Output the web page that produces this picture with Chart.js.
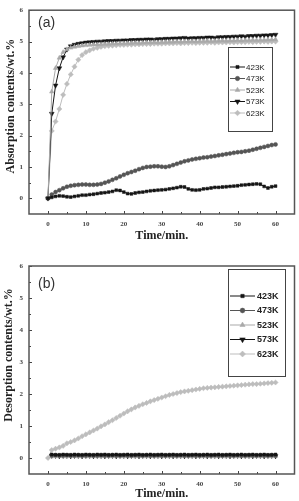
<!DOCTYPE html>
<html><head><meta charset="utf-8">
<script src="https://cdn.jsdelivr.net/npm/chart.js@4/dist/chart.umd.min.js"></script>
<style>
html,body{margin:0;padding:0;background:#fff;width:299px;height:501px;overflow:hidden}
#wa{position:absolute;left:0;top:0;width:299px;height:250px}
#wb{position:absolute;left:0;top:250px;width:299px;height:251px}
</style></head><body>
<div id="wa"><canvas id="ca"></canvas></div>
<div id="wb"><canvas id="cb"></canvas></div>
<script>
const times = [0,1,2,3,4,5,6,7,8,9,10,11,12,13,14,15,16,17,18,19,20,21,22,23,24,25,26,27,28,29,30,31,32,33,34,35,36,37,38,39,40,41,42,43,44,45,46,47,48,49,50,51,52,53,54,55,56,57,58,59,60];
const seriesNames = ['423K','473K','523K','573K','623K'];
const xTickValues = [0,10,20,30,40,50,60];
const yTickValues = [0,1,2,3,4,5,6];

// (a) Absorption contents / wt.%
const abs423 = [0,0.03,0.06,0.08,0.07,0.05,0.04,0.06,0.08,0.1, 0.1,0.12,0.13,0.15,0.17,0.18,0.2,0.22,0.26,0.25, 0.2,0.15,0.14,0.17,0.19,0.2,0.22,0.24,0.25,0.26, 0.27,0.28,0.3,0.32,0.34,0.37,0.36,0.3,0.27,0.26, 0.27,0.3,0.31,0.33,0.35,0.35,0.36,0.37,0.38,0.39, 0.4,0.42,0.43,0.44,0.45,0.46,0.45,0.38,0.33,0.37, 0.39];
const abs473 = [0,0.12,0.2,0.26,0.32,0.37,0.4,0.42,0.43,0.44, 0.44,0.43,0.43,0.44,0.46,0.5,0.54,0.59,0.64,0.7, 0.75,0.8,0.84,0.88,0.93,0.97,1.0,1.01,1.02,1.02, 1.01,1.0,1.02,1.06,1.1,1.14,1.18,1.21,1.24,1.26, 1.28,1.3,1.31,1.33,1.35,1.37,1.39,1.41,1.43,1.45, 1.47,1.48,1.5,1.52,1.55,1.58,1.61,1.64,1.67,1.7, 1.72];
const abs523 = [0,3.4,4.15,4.48,4.66,4.75,4.8,4.83,4.85,4.87, 4.88,4.89,4.9,4.9,4.91,4.92,4.92,4.93,4.93,4.94, 4.94,4.95,4.95,4.96,4.95,4.96,4.97,4.97,4.98,4.97, 4.98,4.98,4.99,4.99,5.0,4.99,5.0,5.0,5.01,5.0, 5.01,5.01,5.02,5.01,5.02,5.02,5.03,5.02,5.03,5.03, 5.04,5.03,5.04,5.04,5.05,5.04,5.05,5.05,5.06,5.06, 5.07];
const abs573 = [0,2.7,3.6,4.15,4.5,4.75,4.85,4.9,4.93,4.95, 4.97,4.98,4.99,5.0,5.0,5.01,5.02,5.02,5.03,5.03, 5.04,5.04,5.05,5.05,5.06,5.06,5.07,5.07,5.06,5.08, 5.08,5.09,5.09,5.1,5.1,5.11,5.12,5.1,5.11,5.11, 5.12,5.12,5.13,5.13,5.12,5.14,5.14,5.15,5.15,5.16, 5.16,5.17,5.16,5.18,5.18,5.19,5.19,5.2,5.2,5.21, 5.22];
const abs623 = [0,2.15,2.45,2.85,3.3,3.65,3.95,4.2,4.42,4.57, 4.66,4.72,4.77,4.8,4.83,4.85,4.86,4.87,4.88,4.89, 4.89,4.9,4.9,4.91,4.91,4.92,4.92,4.92,4.93,4.93, 4.93,4.94,4.94,4.94,4.95,4.94,4.95,4.95,4.96,4.95, 4.96,4.96,4.96,4.97,4.96,4.97,4.97,4.97,4.98,4.97, 4.98,4.98,4.98,4.99,4.98,4.99,4.99,5.0,4.99,5.0, 5.0];

// (b) Desorption contents / wt.%
const des423 = [null,0.11,0.1,0.1,0.11,0.1,0.1,0.11,0.1,0.1, 0.11,0.1,0.1,0.11,0.1,0.11,0.1,0.1,0.11,0.1, 0.1,0.11,0.1,0.1,0.11,0.1,0.1,0.11,0.1,0.1, 0.11,0.1,0.1,0.11,0.1,0.1,0.11,0.1,0.1,0.11, 0.1,0.1,0.11,0.1,0.1,0.11,0.1,0.1,0.11,0.1, 0.1,0.11,0.1,0.1,0.11,0.1,0.1,0.11,0.1,0.1, 0.11];
const des473 = [null,0.08,0.09,0.08,0.08,0.09,0.08,0.08,0.09,0.08, 0.08,0.09,0.08,0.08,0.09,0.08,0.08,0.09,0.08,0.08, 0.09,0.08,0.08,0.09,0.08,0.08,0.09,0.08,0.08,0.09, 0.08,0.08,0.09,0.08,0.08,0.09,0.08,0.08,0.09,0.08, 0.08,0.09,0.08,0.08,0.09,0.08,0.08,0.09,0.08,0.08, 0.09,0.08,0.08,0.09,0.08,0.08,0.09,0.08,0.08,0.09, 0.08];
const des523 = [null,0.05,0.05,0.06,0.05,0.05,0.06,0.05,0.05,0.06, 0.05,0.05,0.06,0.05,0.05,0.06,0.05,0.05,0.06,0.05, 0.05,0.06,0.05,0.05,0.06,0.05,0.05,0.06,0.05,0.05, 0.06,0.05,0.05,0.06,0.05,0.05,0.06,0.05,0.05,0.06, 0.05,0.05,0.06,0.05,0.05,0.06,0.05,0.05,0.06,0.05, 0.05,0.06,0.05,0.05,0.06,0.05,0.05,0.06,0.05,0.05, 0.06];
const des573 = [null,0.07,0.07,0.06,0.07,0.07,0.06,0.07,0.07,0.06, 0.07,0.07,0.06,0.07,0.07,0.06,0.07,0.07,0.06,0.07, 0.07,0.06,0.07,0.07,0.06,0.07,0.07,0.06,0.07,0.07, 0.06,0.07,0.07,0.06,0.07,0.07,0.06,0.07,0.07,0.06, 0.07,0.07,0.06,0.07,0.07,0.06,0.07,0.07,0.06,0.07, 0.07,0.06,0.07,0.07,0.06,0.07,0.07,0.06,0.07,0.07, 0.06];
const des623 = [0,0.25,0.29,0.33,0.38,0.46,0.5,0.55,0.61,0.68, 0.74,0.8,0.86,0.92,0.99,1.05,1.12,1.18,1.25,1.32, 1.39,1.46,1.52,1.58,1.63,1.68,1.72,1.77,1.81,1.85, 1.89,1.93,1.97,2.0,2.03,2.06,2.08,2.1,2.12,2.14, 2.16,2.18,2.19,2.2,2.21,2.22,2.23,2.24,2.25,2.26, 2.27,2.28,2.29,2.3,2.31,2.31,2.32,2.33,2.34,2.35, 2.36];

const styles = [
  {color:'#151515', pointStyle:'rect', rot:0, r:2.0},
  {color:'#555555', pointStyle:'circle', rot:0, r:2.0},
  {color:'#a9a9a9', pointStyle:'triangle', rot:0, r:2.6},
  {color:'#151515', pointStyle:'triangle', rot:180, r:2.8},
  {color:'#bdbdbd', pointStyle:'rectRot', rot:0, r:2.6}
];

function buildDatasets(valueLists){
  return valueLists.map((vals,i)=>({
    label: seriesNames[i],
    data: times.map((t,k)=>({x:t, y:vals[k]})),
    borderColor: styles[i].color,
    backgroundColor: styles[i].color,
    pointBackgroundColor: styles[i].color,
    pointBorderColor: styles[i].color,
    pointBorderWidth: 0.5,
    pointStyle: styles[i].pointStyle,
    pointRotation: styles[i].rot,
    pointRadius: styles[i].r,
    borderWidth: 1,
    tension: 0,
    spanGaps: false
  }));
}

function drawMarker(ctx, st, x, y, r){
  ctx.fillStyle = st.color; ctx.strokeStyle = st.color; ctx.lineWidth = 0.5;
  if (Chart.helpers && Chart.helpers.drawPoint) {
    Chart.helpers.drawPoint(ctx, {pointStyle: st.pointStyle, rotation: st.rot, radius: r, borderWidth: 0.5}, x, y);
  } else {
    ctx.beginPath(); ctx.arc(x, y, r, 0, Math.PI*2); ctx.fill();
  }
}

const frameTicks = {
  id: 'frameTicks',
  afterDatasetsDraw(chart, args, o){
    const {ctx, chartArea:a, scales:{x, y}} = chart;
    ctx.save();
    ctx.strokeStyle = '#444'; ctx.lineWidth = 1;
    ctx.beginPath();
    for (let v = 0; v <= 60; v += 5){
      const px = Math.round(x.getPixelForValue(v)) + 0.5; const len = (v % 10 === 0) ? 3 : 2;
      ctx.moveTo(px, a.bottom); ctx.lineTo(px, a.bottom - len);
    }
    for (let v = 0; v <= 6; v += 0.5){
      const py = Math.round(y.getPixelForValue(v)) + 0.5; const len = (v % 1 === 0) ? 3 : 2;
      ctx.moveTo(a.left, py); ctx.lineTo(a.left + len, py);
    }
    ctx.stroke();
    ctx.strokeStyle = '#555'; ctx.lineWidth = 1.5;
    ctx.strokeRect(a.left, a.top, a.right - a.left, a.bottom - a.top);
    ctx.fillStyle = '#333'; ctx.font = '14px "Liberation Sans", Arial, sans-serif';
    ctx.textAlign = 'left'; ctx.textBaseline = 'middle';
    ctx.fillText(o.panel, o.panelX, o.panelY);
    const L = o.legend;
    ctx.fillStyle = '#fff';
    ctx.fillRect(L.box[0], L.box[1], L.box[2], L.box[3]);
    ctx.strokeStyle = '#444'; ctx.lineWidth = 1;
    ctx.strokeRect(L.box[0] + 0.5, L.box[1] + 0.5, L.box[2], L.box[3]);
    chart.data.datasets.forEach((ds, i) => {
      const yy = L.y0 + i * L.dy;
      const st = styles[i];
      ctx.strokeStyle = st.color; ctx.lineWidth = 1;
      ctx.beginPath(); ctx.moveTo(L.lx0, yy); ctx.lineTo(L.lx1, yy); ctx.stroke();
      drawMarker(ctx, st, (L.lx0 + L.lx1) / 2, yy, st.r + L.dr);
      ctx.fillStyle = '#222'; ctx.font = L.font; ctx.textAlign = 'left'; ctx.textBaseline = 'middle';
      ctx.fillText(ds.label, L.tx, yy + 0.5);
    });
    ctx.restore();
  }
};

function makeOptions(cfg){
  const tickFont = {family: '"Liberation Serif", serif', size: 7, weight: 'bold'};
  const titleFont = {family: '"Liberation Serif", "Times New Roman", serif', size: 12, weight: 'bold'};
  return {
    responsive: true, maintainAspectRatio: false, animation: false,
    layout: {padding: {left: 0, top: cfg.padTop, right: cfg.padRight, bottom: 0}},
    plugins: {legend: {display: false}, tooltip: {enabled: false}, frameTicks: cfg.frame},
    scales: {
      x: {
        type: 'linear', min: -5, max: 65,
        afterBuildTicks: s => { s.ticks = xTickValues.map(v => ({value: v})); },
        afterFit: s => { s.height = cfg.xH; },
        grid: {display: false, drawTicks: false}, border: {display: false},
        ticks: {padding: 6, font: tickFont, color: '#444', maxRotation: 0, autoSkip: false},
        title: {display: true, text: 'Time/min.', font: titleFont, color: '#222', padding: {top: 0, bottom: cfg.xTitlePad}}
      },
      y: {
        min: -0.5, max: 6,
        afterBuildTicks: s => { s.ticks = yTickValues.map(v => ({value: v})); },
        afterFit: s => { s.width = 29; },
        grid: {display: false, drawTicks: false}, border: {display: false},
        ticks: {padding: 6, font: tickFont, color: '#444', autoSkip: false},
        title: {display: true, text: cfg.yTitle, font: {family: titleFont.family, size: 12, weight: 'bold'}, color: '#222', padding: {top: cfg.yTitlePad, bottom: 0}}
      }
    }
  };
}

new Chart(document.getElementById('ca'), {
  type: 'line',
  data: {datasets: buildDatasets([abs423, abs473, abs523, abs573, abs623])},
  options: makeOptions({
    padTop: 5, padRight: 4, xH: 36, xTitlePad: 7, yTitlePad: 4,
    yTitle: '\u2002\u2002Absorption contents/wt.%',
    frame: {panel: '(a)', panelX: 38, panelY: 23,
      legend: {box: [228, 47, 44, 84], lx0: 230, lx1: 245, tx: 246, y0: 67, dy: 11.5, dr: 0.2,
        font: '8px "Liberation Sans Narrow", "Liberation Sans", Arial, sans-serif'}}
  }),
  plugins: [frameTicks]
});

new Chart(document.getElementById('cb'), {
  type: 'line',
  data: {datasets: buildDatasets([des423, des473, des523, des573, des623])},
  options: makeOptions({
    padTop: 16, padRight: 3, xH: 27, xTitlePad: 0, yTitlePad: 2,
    yTitle: '\u2002\u2002\u2002\u2002\u2002Desorption contents/wt.%',
    frame: {panel: '(b)', panelX: 38, panelY: 34,
      legend: {box: [228, 19, 57, 107], lx0: 230, lx1: 255, tx: 257, y0: 46, dy: 14.5, dr: 0.4,
        font: 'bold 9px "Liberation Sans", Arial, sans-serif'}}
  }),
  plugins: [frameTicks]
});
</script>
</body></html>
